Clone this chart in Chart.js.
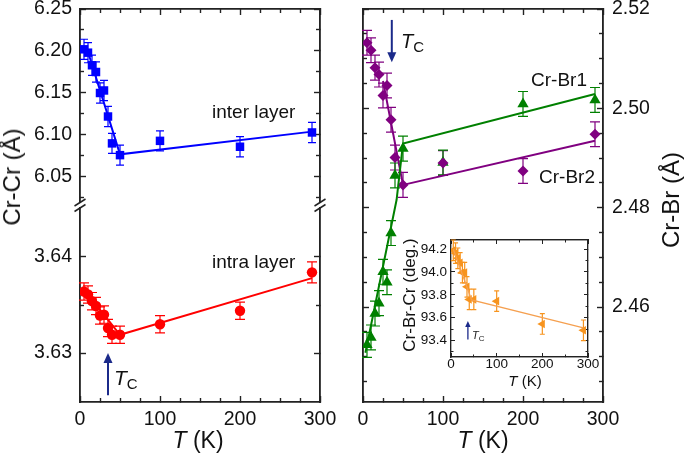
<!DOCTYPE html>
<html><head><meta charset="utf-8">
<script src="https://cdn.jsdelivr.net/npm/chart.js@4"></script>
<style>
html,body{margin:0;padding:0;background:#fff;}
#wrap{position:relative;width:685px;height:462px;overflow:hidden;font-family:'Liberation Sans',Arial,sans-serif;color:#111;}
canvas{position:absolute;left:0;top:0;}
.t{position:absolute;white-space:nowrap;line-height:1;transform:translateY(-50%);}
.c{position:absolute;white-space:nowrap;line-height:1;transform:translate(-50%,-50%);}
.rot{position:absolute;white-space:nowrap;line-height:1;transform:translate(-50%,-50%) rotate(-90deg);}
</style></head>
<body><div id="wrap">
<canvas id="cLU" width="685" height="462"></canvas>
<canvas id="cLL" width="685" height="462"></canvas>
<canvas id="cR" width="685" height="462"></canvas>
<canvas id="cIn" width="685" height="462"></canvas>

<div class="rot" style="left:12px;top:177px;font-size:24px;">Cr-Cr (Å)</div>
<div class="rot" style="left:671px;top:200px;font-size:24px;">Cr-Br (Å)</div>
<div class="c" style="left:198px;top:440px;font-size:23px;"><i>T</i> (K)</div>
<div class="c" style="left:483px;top:440px;font-size:23px;"><i>T</i> (K)</div>
<div class="t" style="left:212px;top:111px;font-size:19px;">inter layer</div>
<div class="t" style="left:212px;top:261px;font-size:19px;">intra layer</div>
<div class="t" style="left:531px;top:79px;font-size:19px;">Cr-Br1</div>
<div class="t" style="left:539px;top:176px;font-size:19px;">Cr-Br2</div>
<div class="t" style="left:114px;top:377px;font-size:21px;"><i>T</i><span style="font-size:15px;position:relative;top:4px;">C</span></div>
<div class="t" style="left:401px;top:41px;font-size:20px;"><i>T</i><span style="font-size:15px;position:relative;top:4px;">C</span></div>
<div class="t" style="left:472px;top:335px;font-size:11px;color:#222;"><i>T</i><span style="font-size:8px;position:relative;top:2px;">C</span></div>
<div class="rot" style="left:409px;top:295px;font-size:17px;">Cr-Br-Cr (deg.)</div>
<div class="c" style="left:525px;top:380px;font-size:15px;"><i>T</i> (K)</div>
</div>
<script>
// ---------------- data ----------------
const temps = [5, 10, 15, 20, 25, 30, 35, 40, 50, 100, 200, 290];
const interLayer = [6.202, 6.198, 6.183, 6.175, 6.150, 6.153, 6.122, 6.090, 6.076, 6.093, 6.086, 6.103];
const interErr = [0.012, 0.012, 0.012, 0.012, 0.012, 0.012, 0.012, 0.012, 0.012, 0.012, 0.012, 0.012];
const intraLayer = [3.6364, 3.6361, 3.6354, 3.6349, 3.6339, 3.6340, 3.6326, 3.6319, 3.6319, 3.6330, 3.6344, 3.6384];
const intraErr = [0.0009, 0.0009, 0.0009, 0.0009, 0.0009, 0.0009, 0.0009, 0.0009, 0.0009, 0.0009, 0.0009, 0.0011];
const crBr1 = [2.4524, 2.4539, 2.4587, 2.4608, 2.4671, 2.4650, 2.4749, 2.4865, 2.4919, 2.4891, 2.5009, 2.5017];
const crBr1Err = [0.0025, 0.0025, 0.0025, 0.0025, 0.0025, 0.0025, 0.0025, 0.0025, 0.0025, 0.0025, 0.0025, 0.0025];
const crBr2 = [2.5132, 2.5117, 2.5082, 2.5068, 2.5026, 2.5046, 2.4977, 2.4901, 2.4846, 2.4890, 2.4874, 2.4948];
const crBr2Err = [0.0025, 0.0025, 0.0025, 0.0025, 0.0025, 0.0025, 0.0025, 0.0025, 0.0025, 0.0025, 0.0025, 0.0025];
const angleTemps = [5, 10, 15, 20, 25, 30, 35, 40, 50, 100, 200, 290];
const bondAngle = [94.19, 94.165, 94.12, 94.08, 93.995, 93.995, 93.87, 93.76, 93.76, 93.745, 93.545, 93.49];
const bondAngleErr = [0.09, 0.09, 0.09, 0.09, 0.09, 0.09, 0.09, 0.09, 0.09, 0.09, 0.09, 0.09];

const interFitT = [8, 50, 290],     interFitV = [6.205, 6.077, 6.104];
const intraFitT = [5, 50, 290],     intraFitV = [3.6366, 3.6319, 3.6378];
const br1FitT = [3, 42, 50, 290],   br1FitV = [2.4508, 2.4816, 2.4929, 2.5029];
const br2FitT = [25, 50, 290],      br2FitV = [2.5055, 2.4846, 2.4935];
const angleFitT = [5, 45, 290],     angleFitV = [94.20, 93.755, 93.51];

const xMajorTicks = [0, 100, 200, 300];
const xMinorTicks = [25, 50, 75, 125, 150, 175, 225, 250, 275];
const interMajorTicks = [6.05, 6.10, 6.15, 6.20, 6.25];
const interMinorTicks = [6.025, 6.075, 6.125, 6.175, 6.225];
const intraMajorTicks = [3.63, 3.64];
const intraMinorTicks = [3.635];
const brMajorTicks = [2.46, 2.48, 2.50, 2.52];
const brMinorTicks = [2.445, 2.45, 2.455, 2.465, 2.47, 2.475, 2.485, 2.49, 2.495, 2.505, 2.51, 2.515];
const insetXMajorTicks = [0, 100, 200, 300];
const insetXMinorTicks = [50, 150, 250];
const insetYMajorTicks = [93.4, 93.6, 93.8, 94.0, 94.2];
const insetYMinorTicks = [93.3, 93.5, 93.7, 93.9, 94.1];

// Tc arrow annotations (data space): x, tail value, head value
const tcArrowLeft = {x: 35, from: 3.6256, to: 3.6300};
const tcArrowRight = {x: 36, from: 2.5178, to: 2.5093};
const tcArrowInset = {x: 37, from: 93.41, to: 93.57};

// ---------------- rendering ----------------
const W = 685, H = 462;
const FONT = "'Liberation Sans', Arial, sans-serif";
const AXC = '#222';
const BLUE = '#0000ff', RED = '#ff0000', PURPLE = '#800080', GREEN = '#008000', ORANGE = '#f7941e';
const NAVY = '#1b2a8a';

function pts(xs, ys) { return xs.map((x, i) => ({x, y: ys[i]})); }

function ax(axis, position, min, max, tickVals, o) {
  o = o || {};
  const size = o.size || 0;
  return {
    type: 'linear', axis, position, min, max, weight: size ? 1 : 0,
    afterFit(s) {
      if (s.isHorizontal()) s.height = size; else s.width = size;
      s.paddingLeft = s.paddingRight = s.paddingTop = s.paddingBottom = 0;
    },
    afterBuildTicks(s) { s.ticks = tickVals.map(v => ({value: v})); },
    border: {display: true, color: AXC, width: o.bw || 1.6},
    grid: {display: true, drawOnChartArea: false, drawTicks: true, tickLength: -(o.len || 6), tickColor: AXC, tickWidth: o.tw || 1.4},
    ticks: {display: !!o.labels, autoSkip: false, maxRotation: 0, minRotation: 0, padding: o.pad || 0,
            color: '#111', font: {family: FONT, size: o.fs || 19.5}, callback: o.fmt || (v => String(v))}
  };
}

const errorBars = {
  id: 'errorBars',
  beforeDatasetsDraw(chart) {
    const ctx = chart.ctx;
    chart.data.datasets.forEach((ds, di) => {
      if (!ds.err) return;
      const meta = chart.getDatasetMeta(di);
      const xs = chart.scales[meta.xAxisID], ys = chart.scales[meta.yAxisID];
      ctx.save();
      ctx.strokeStyle = ds.errColor || ds.pointBackgroundColor;
      ctx.lineWidth = ds.errWidth || 1.2;
      const c = ds.capHalf || 4;
      ds.data.forEach((p, i) => {
        const e = ds.err[i];
        const x = xs.getPixelForValue(p.x);
        const y1 = ys.getPixelForValue(p.y - e), y2 = ys.getPixelForValue(p.y + e);
        ctx.beginPath();
        ctx.moveTo(x, y1); ctx.lineTo(x, y2);
        ctx.moveTo(x - c, y1); ctx.lineTo(x + c, y1);
        ctx.moveTo(x - c, y2); ctx.lineTo(x + c, y2);
        ctx.stroke();
      });
      ctx.restore();
    });
  }
};

function arrowPlugin(a, yId, lw, head) {
  return {
    id: 'arrow',
    afterDatasetsDraw(chart) {
      const ctx = chart.ctx, xs = chart.scales.x, ys = chart.scales[yId];
      const x = xs.getPixelForValue(a.x), y1 = ys.getPixelForValue(a.from), y2 = ys.getPixelForValue(a.to);
      const dir = y2 < y1 ? -1 : 1;
      ctx.save();
      ctx.strokeStyle = NAVY; ctx.fillStyle = NAVY; ctx.lineWidth = lw;
      ctx.beginPath(); ctx.moveTo(x, y1); ctx.lineTo(x, y2 - dir * head * 0.8); ctx.stroke();
      ctx.beginPath();
      ctx.moveTo(x, y2);
      ctx.lineTo(x - head * 0.45, y2 - dir * head);
      ctx.lineTo(x + head * 0.45, y2 - dir * head);
      ctx.closePath(); ctx.fill();
      ctx.restore();
    }
  };
}

const breakMarks = {
  id: 'breakMarks',
  afterDraw(chart) {
    const ctx = chart.ctx, a = chart.chartArea;
    ctx.save(); ctx.strokeStyle = AXC; ctx.lineWidth = 1.5;
    [a.left, a.right].forEach(x => {
      [a.bottom + 0.5, a.bottom + 6].forEach(y => {
        ctx.beginPath(); ctx.moveTo(x - 5.5, y + 3.5); ctx.lineTo(x + 5.5, y - 3.5); ctx.stroke();
      });
    });
    ctx.restore();
  }
};

const whiteBg = {
  id: 'whiteBg',
  beforeDraw(chart) {
    const a = chart.chartArea, ctx = chart.ctx;
    ctx.save(); ctx.fillStyle = '#fff'; ctx.fillRect(a.left, a.top, a.right - a.left, a.bottom - a.top); ctx.restore();
  }
};

function makeChart(id, pad, scales, datasets, extra) {
  return new Chart(document.getElementById(id), {
    type: 'scatter',
    data: {datasets},
    options: {
      responsive: false, animation: false, devicePixelRatio: 1, events: [],
      layout: {autoPadding: false, padding: pad},
      plugins: {legend: {display: false}, tooltip: {enabled: false}},
      scales
    },
    plugins: [errorBars].concat(extra || [])
  });
}

function fitDs(xs, ys, color, w) {
  return {data: pts(xs, ys), showLine: true, pointRadius: 0, borderColor: color, borderWidth: w || 2, fill: false};
}
function markDs(xs, ys, err, color, style, r, cap, rot) {
  return {data: pts(xs, ys), err, showLine: false, pointStyle: style, pointRadius: r, pointRotation: rot || 0,
          pointBackgroundColor: color, pointBorderColor: color, pointBorderWidth: 0, capHalf: cap, errColor: color};
}

const f2 = v => v.toFixed(2), f0 = v => v.toFixed(0), f1 = v => v.toFixed(1);

// left upper: inter layer  (chart area 80..320 x 9..202)
makeChart('cLU', {left: 0, top: 9, right: 365, bottom: 260}, {
  xm: ax('x', 'top', 0, 300, xMinorTicks, {len: 4}),
  x: ax('x', 'top', 0, 300, xMajorTicks),
  ym: ax('y', 'left', 6.0202, 6.25, interMinorTicks, {len: 4}),
  y: ax('y', 'left', 6.0202, 6.25, interMajorTicks, {labels: true, size: 80, pad: 14, fmt: f2}),
  yr: ax('y', 'right', 6.0202, 6.25, interMajorTicks),
  yrm: ax('y', 'right', 6.0202, 6.25, interMinorTicks, {len: 4})
}, [
  fitDs(interFitT, interFitV, BLUE, 2),
  markDs(temps, interLayer, interErr, BLUE, 'rect', 6, 4)
], [breakMarks]);

// left lower: intra layer (chart area 80..320 x 208..402)
makeChart('cLL', {left: 0, top: 208, right: 365, bottom: 0}, {
  xm: ax('x', 'bottom', 0, 300, xMinorTicks, {len: 4}),
  x: ax('x', 'bottom', 0, 300, xMajorTicks, {labels: true, size: 60, pad: 12, fmt: f0}),
  ym: ax('y', 'left', 3.6249, 3.6451, intraMinorTicks, {len: 4}),
  y: ax('y', 'left', 3.6249, 3.6451, intraMajorTicks, {labels: true, size: 80, pad: 14, fmt: f2}),
  yr: ax('y', 'right', 3.6249, 3.6451, intraMajorTicks),
  yrm: ax('y', 'right', 3.6249, 3.6451, intraMinorTicks, {len: 4})
}, [
  fitDs(intraFitT, intraFitV, RED, 2),
  markDs(temps, intraLayer, intraErr, RED, 'circle', 5.2, 5)
], [arrowPlugin(tcArrowLeft, 'y', 2, 10)]);

// right panel: Cr-Br (chart area 363..603 x 9..402)
makeChart('cR', {left: 363, top: 9, right: 0, bottom: 0}, {
  xm: ax('x', 'bottom', 0, 300, xMinorTicks, {len: 4}),
  x: ax('x', 'bottom', 0, 300, xMajorTicks, {labels: true, size: 60, pad: 12, fmt: f0}),
  xt: ax('x', 'top', 0, 300, xMajorTicks),
  xtm: ax('x', 'top', 0, 300, xMinorTicks, {len: 4}),
  ym: ax('y', 'right', 2.4409, 2.52, brMinorTicks, {len: 4}),
  y: ax('y', 'right', 2.4409, 2.52, brMajorTicks, {labels: true, size: 82, pad: 15, fmt: f2}),
  yl: ax('y', 'left', 2.4409, 2.52, brMajorTicks),
  ylm: ax('y', 'left', 2.4409, 2.52, brMinorTicks, {len: 4})
}, [
  fitDs(br1FitT, br1FitV, GREEN, 2),
  fitDs(br2FitT, br2FitV, PURPLE, 2),
  markDs(temps, crBr2, crBr2Err, PURPLE, 'rectRot', 5.5, 5),
  markDs(temps, crBr1, crBr1Err, GREEN, 'triangle', 6.5, 5)
], [arrowPlugin(tcArrowRight, 'y', 2, 10)]);

// inset: Cr-Br-Cr angle (chart area 451..588 x 240..357)
makeChart('cIn', {left: 411, top: 240, right: 97, bottom: 85}, {
  xm: ax('x', 'bottom', 0, 300, insetXMinorTicks, {len: 2.5, bw: 1.2, tw: 1}),
  x: ax('x', 'bottom', 0, 300, insetXMajorTicks, {labels: true, size: 20, pad: 3, len: 4, fs: 13.5, fmt: f0, bw: 1.2, tw: 1}),
  xt: ax('x', 'top', 0, 300, insetXMajorTicks, {len: 4, bw: 1.2, tw: 1}),
  xtm: ax('x', 'top', 0, 300, insetXMinorTicks, {len: 2.5, bw: 1.2, tw: 1}),
  ym: ax('y', 'left', 93.256, 94.28, insetYMinorTicks, {len: 2.5, bw: 1.2, tw: 1}),
  y: ax('y', 'left', 93.256, 94.28, insetYMajorTicks, {labels: true, size: 40, pad: 8, len: 4, fs: 13.5, fmt: f1, bw: 1.2, tw: 1}),
  yr: ax('y', 'right', 93.256, 94.28, insetYMajorTicks, {len: 4, bw: 1.2, tw: 1}),
  yrm: ax('y', 'right', 93.256, 94.28, insetYMinorTicks, {len: 2.5, bw: 1.2, tw: 1})
}, [
  fitDs(angleFitT, angleFitV, '#f5a050', 1.3),
  markDs(angleTemps, bondAngle, bondAngleErr, ORANGE, 'triangle', 5, 2.5, -90)
], [whiteBg, arrowPlugin(tcArrowInset, 'y', 1.3, 6)]);
</script>
</body></html>
